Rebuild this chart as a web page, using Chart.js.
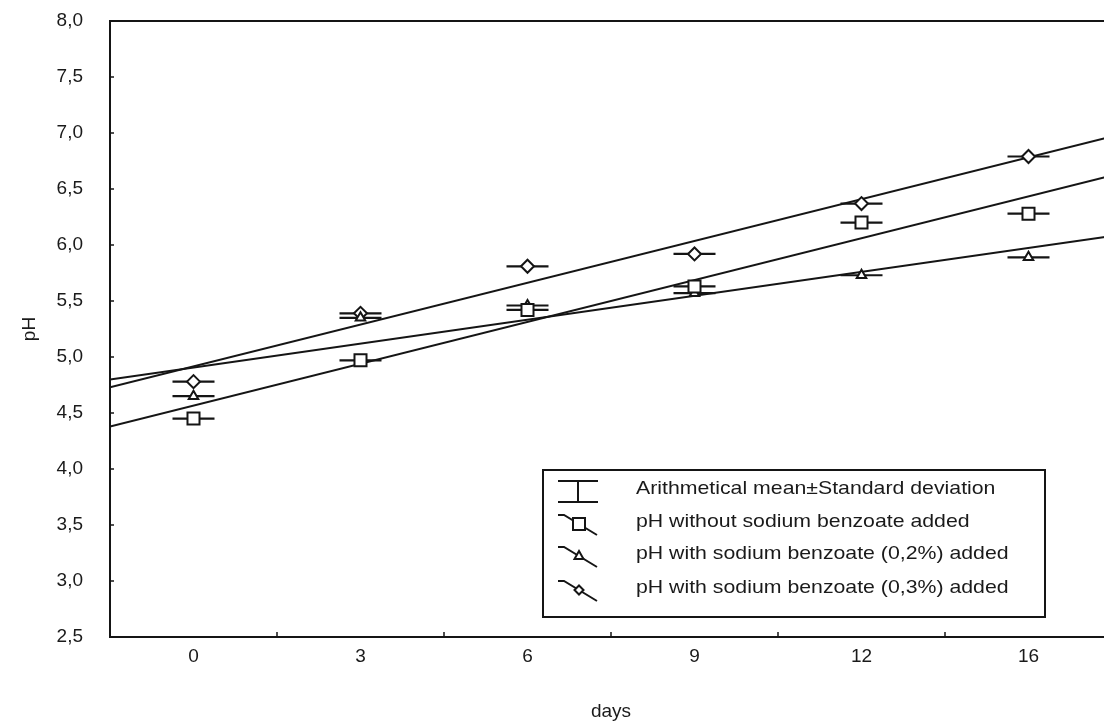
<!DOCTYPE html>
<html><head><meta charset="utf-8">
<script src="https://cdn.jsdelivr.net/npm/chart.js@4.4.1/dist/chart.umd.min.js"></script>
<style>
html,body{margin:0;padding:0;background:#fff;overflow:hidden;width:1104px;height:723px}
#wrap{position:relative;width:1114px;height:723px}
</style></head>
<body><div id="wrap"><canvas id="c" width="1114" height="723"></canvas></div>
<script>
// ---- data ----
const days = ['0', '3', '6', '9', '12', '16'];
const phWithout = [4.45, 4.97, 5.42, 5.63, 6.20, 6.28];
const phBenz02  = [4.65, 5.35, 5.46, 5.57, 5.73, 5.89];
const phBenz03  = [4.78, 5.39, 5.81, 5.92, 6.37, 6.79];
// fitted straight lines: value at left edge, value at right edge of plot
const fitWithout = [4.38, 6.62];
const fitBenz02  = [4.80, 6.08];
const fitBenz03  = [4.73, 6.97];
const legendLabels = [
  'Arithmetical mean\u00B1Standard deviation',
  'pH without sodium benzoate added',
  'pH with sodium benzoate (0,2%) added',
  'pH with sodium benzoate (0,3%) added'
];

const INK = '#151515';
const FONT = "'Liberation Sans', Arial, sans-serif";
const X_MIN = -0.5, X_MAX = days.length - 0.5;

const pts = arr => arr.map((v, i) => ({x: i, y: v}));
const fit = f => [{x: X_MIN, y: f[0]}, {x: X_MAX, y: f[1]}];

function markerDs(arr, style, r) {
  return {type: 'scatter', data: pts(arr), pointStyle: style, pointRadius: r, pointHoverRadius: r,
    pointBackgroundColor: '#fff', pointBorderColor: INK, pointBorderWidth: 2, showLine: false, order: 0};
}
function barDs(arr) {
  return {type: 'scatter', data: pts(arr), pointStyle: 'line', pointRadius: 21, pointHoverRadius: 21,
    pointBorderColor: INK, pointBorderWidth: 2.2, showLine: false, order: 1};
}
function fitDs(f) {
  return {type: 'line', data: fit(f), borderColor: INK, borderWidth: 2, pointRadius: 0,
    tension: 0, fill: false, order: 2};
}

function drawMarker(ctx, style, x, y) {
  ctx.save();
  ctx.fillStyle = '#fff'; ctx.strokeStyle = INK; ctx.lineWidth = 2;
  ctx.beginPath();
  if (style === 'rect') { ctx.rect(x - 6, y - 6, 12, 12); }
  else if (style === 'triangle') { ctx.moveTo(x, y - 5); ctx.lineTo(x + 4.5, y + 3); ctx.lineTo(x - 4.5, y + 3); ctx.closePath(); }
  else { ctx.moveTo(x, y - 4.5); ctx.lineTo(x + 4.5, y); ctx.lineTo(x, y + 4.5); ctx.lineTo(x - 4.5, y); ctx.closePath(); }
  ctx.fill(); ctx.stroke();
  ctx.restore();
}

const framePlugin = {
  id: 'frame',
  afterDraw(chart) {
    const {ctx, chartArea: a, scales} = chart;
    ctx.save();
    ctx.strokeStyle = INK; ctx.lineWidth = 2;
    ctx.strokeRect(a.left, a.top, a.right - a.left, a.bottom - a.top);
    // inward tick marks
    ctx.lineWidth = 1.5;
    scales.y.ticks.forEach(t => {
      const py = scales.y.getPixelForValue(t.value);
      ctx.beginPath(); ctx.moveTo(a.left, py); ctx.lineTo(a.left + 4, py); ctx.stroke();
    });
    for (let i = 0; i < days.length - 1; i++) {
      const px = scales.x.getPixelForValue(i + 0.5);
      ctx.beginPath(); ctx.moveTo(px, a.bottom); ctx.lineTo(px, a.bottom - 5); ctx.stroke();
    }
    // legend box
    const bx = 543, by = 470, bw = 502, bh = 147;
    ctx.fillStyle = '#fff';
    ctx.fillRect(bx, by, bw, bh);
    ctx.lineWidth = 2;
    ctx.strokeRect(bx, by, bw, bh);
    const rows = [489, 522, 554, 588];
    ctx.fillStyle = '#1a1a1a';
    ctx.font = '19px ' + FONT;
    ctx.textBaseline = 'middle';
    ctx.textAlign = 'left';
    legendLabels.forEach((t, i) => {
      ctx.save();
      ctx.translate(636, rows[i]);
      ctx.scale(1.12, 1);
      ctx.fillText(t, 0, 0);
      ctx.restore();
    });
    // symbols
    ctx.strokeStyle = INK; ctx.lineWidth = 2;
    ctx.beginPath();
    ctx.moveTo(558, 481); ctx.lineTo(598, 481);
    ctx.moveTo(578, 481); ctx.lineTo(578, 502);
    ctx.moveTo(558, 502); ctx.lineTo(598, 502);
    ctx.stroke();
    const styles = ['rect', 'triangle', 'rectRot'];
    styles.forEach((s, i) => {
      const y = rows[i + 1];
      ctx.beginPath();
      ctx.moveTo(558, y - 7); ctx.lineTo(564, y - 7); ctx.lineTo(597, y + 13);
      ctx.stroke();
      drawMarker(ctx, s, 579, y + 2);
    });
    ctx.restore();
  }
};

new Chart(document.getElementById('c'), {
  data: {
    datasets: [
      markerDs(phWithout, 'rect', 8.5),
      markerDs(phBenz02, 'triangle', 5.5),
      markerDs(phBenz03, 'rectRot', 6.5),
      barDs(phWithout), barDs(phBenz02), barDs(phBenz03),
      fitDs(fitWithout), fitDs(fitBenz02), fitDs(fitBenz03)
    ]
  },
  options: {
    responsive: false,
    animation: false,
    devicePixelRatio: 1,
    layout: {autoPadding: false, padding: {top: 21, right: 2, left: 0, bottom: 0}},
    plugins: {legend: {display: false}, tooltip: {enabled: false}},
    scales: {
      x: {
        type: 'linear', min: X_MIN, max: X_MAX,
        afterBuildTicks: s => { s.ticks = days.map((d, i) => ({value: i})); },
        afterFit: s => { s.height = 86; s.paddingLeft = 0; s.paddingRight = 0; },
        grid: {display: false, drawTicks: false},
        border: {display: true, color: INK, width: 2},
        ticks: {autoSkip: false, maxRotation: 0, padding: 8, color: '#1a1a1a',
          font: {family: FONT, size: 19}, callback: v => days[v] ?? ''},
        title: {display: true, text: 'days', color: '#1a1a1a', font: {family: FONT, size: 19},
          padding: {top: 0, bottom: 0}}
      },
      y: {
        type: 'linear', min: 2.5, max: 8,
        afterFit: s => { s.width = 110; s.paddingTop = 0; s.paddingBottom = 0; },
        grid: {display: false, drawTicks: false},
        border: {display: true, color: INK, width: 2},
        ticks: {stepSize: 0.5, padding: 27, color: '#1a1a1a', font: {family: FONT, size: 19},
          callback: v => v.toFixed(1).replace('.', ',')},
        title: {display: true, text: 'pH', color: '#1a1a1a', font: {family: FONT, size: 19},
          padding: {top: 18, bottom: 0}}
      }
    }
  },
  plugins: [framePlugin]
});
</script>
</body></html>
